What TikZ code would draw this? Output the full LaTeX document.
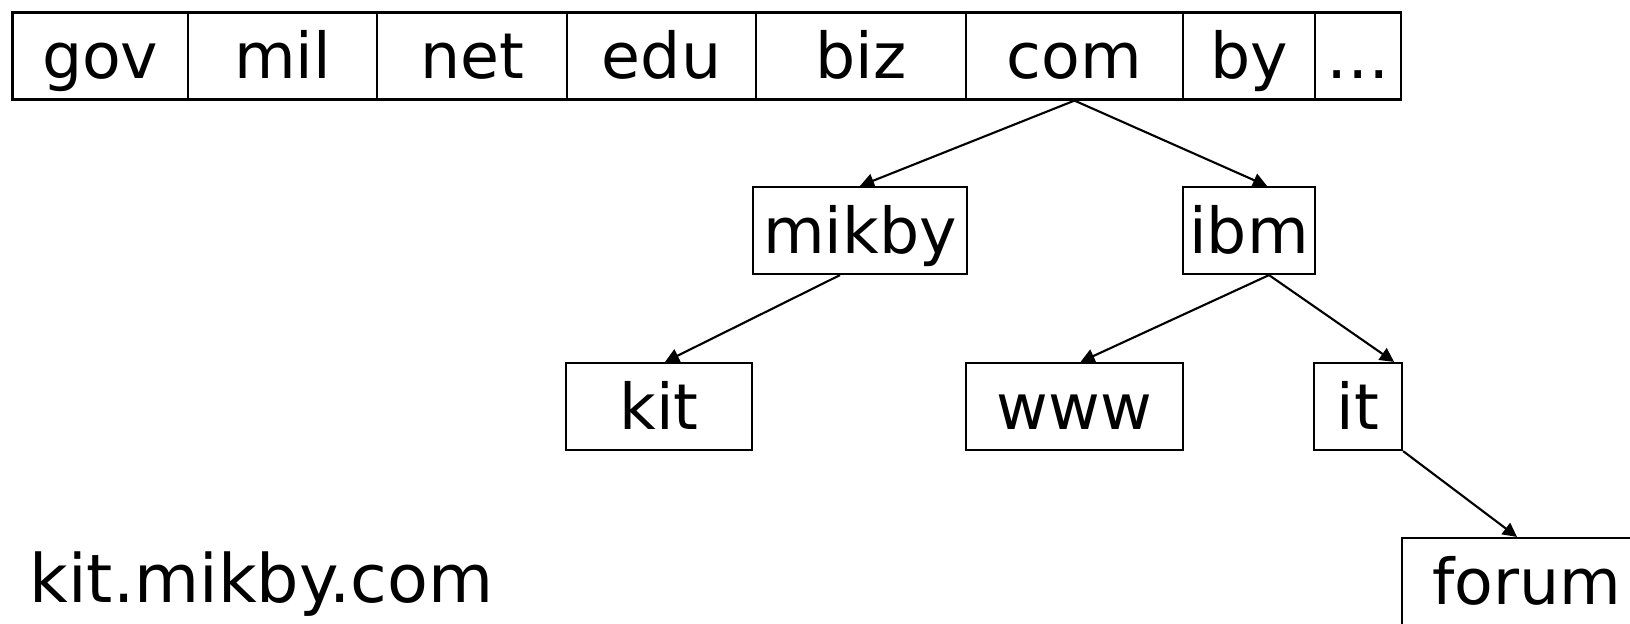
\documentclass[tikz,border=0pt]{standalone}
\usepackage{fontspec}
\setmainfont{DejaVu Sans}
\usetikzlibrary{arrows.meta}

\tikzset{
    box/.style={draw, line width=0.6pt, inner sep=0pt,
        font=\fontsize{18pt}{20pt}\selectfont,
        text height=12.8pt, text depth=0pt, minimum height=8.7mm},
    link/.style={line width=0.6pt, -{Triangle[length=4pt,width=4pt]}}
}

\begin{document}
\begin{tikzpicture}[x=0.01cm, y=-0.01cm]
        \useasboundingbox (0,0) rectangle (1630,623);
        % top level domains
        \foreach \name/\txt/\l/\r in {gov/gov/12.5/188, mil/mil/188/377,
            net/net/377/567, edu/edu/567/756, biz/biz/756/966,
            com/com/966/1183, by/by/1183/1315, more/\dots/1315/1401} {
            \node[box, minimum width={(\r-\l)*0.1mm}] (\name) at ({(\l+\r)/2},56) {\txt};
        }
        % second level
        \node[box, minimum width=21.4mm] (mikby) at (860,230.5) {mikby};
        \node[box, minimum width=13.2mm] (ibm) at (1249,230.5) {ibm};
        % third level
        \node[box, minimum width=18.6mm] (kit) at (659,406.5) {kit};
        \node[box, minimum width=21.7mm] (www) at (1074.5,406.5) {www};
        \node[box, minimum width=8.8mm] (it) at (1358,406.5) {it};
        \node[box, minimum width=25mm] (forum) at (1527,581.5) {forum};
        % full name
        \node[anchor=base west, inner sep=0pt, font=\fontsize{19pt}{21pt}\selectfont]
            (fqdn) at (29,602) {kit.mikby.com};

        \draw[link] (com.south) -- (mikby.north);
        \draw[link] (com.south) -- ([xshift=1.8mm]ibm.north);
        \draw[link] ([xshift=-2mm]mikby.south) -- ([xshift=0.6mm]kit.north);
        \draw[link] ([xshift=2mm]ibm.south) -- ([xshift=0.6mm]www.north);
        \draw[link] ([xshift=2mm]ibm.south) -- ([xshift=-0.9mm]it.north east);
        \draw[link] (it.south east) -- ([xshift=-1mm]forum.north);
    \end{tikzpicture}
\end{document}
